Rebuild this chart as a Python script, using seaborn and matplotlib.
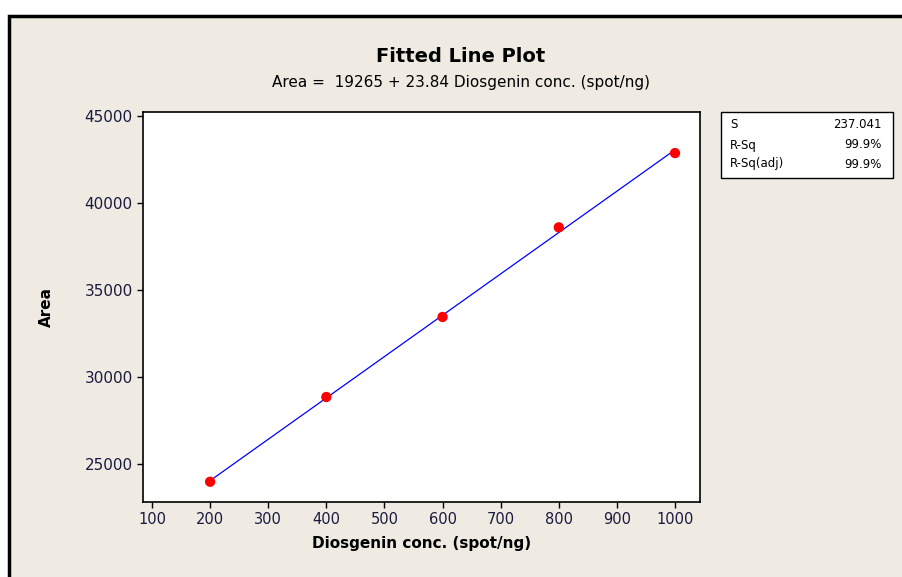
import matplotlib
matplotlib.use("Agg")
import matplotlib.pyplot as plt
import seaborn as sns
import pandas as pd
from matplotlib.patches import Rectangle

conc = [200, 400, 600, 800, 1000]
area = [23980, 28850, 33450, 38600, 42870]
x_ticks = [100, 200, 300, 400, 500, 600, 700, 800, 900, 1000]
y_ticks = [25000, 30000, 35000, 40000, 45000]
stat_names = ["S", "R-Sq", "R-Sq(adj)"]
stat_values = ["237.041", "99.9%", "99.9%"]

df = pd.DataFrame({"Diosgenin conc. (spot/ng)": conc, "Area": area})

sns.set_style("white")
plt.rcParams['font.family'] = ['DejaVu Sans']
plt.rcParams['text.color'] = 'black'

fig = plt.figure(figsize=(9.03, 5.77), dpi=100)
fig.patch.set_facecolor("white")
bg = Rectangle((9 / 903, -0.05), 1.0, 1 - 16 / 577 + 0.05, transform=fig.transFigure,
               facecolor="#EFEBE2", edgecolor="black", linewidth=2.5, zorder=-10)
fig.patches.append(bg)

ax = fig.add_axes([143 / 903, 1 - 502 / 577, 557 / 903, 390 / 577])
ax.set_facecolor("white")
sns.regplot(data=df, x="Diosgenin conc. (spot/ng)", y="Area", ax=ax, ci=None, truncate=True,
            scatter_kws=dict(color="#FF0000", s=55, zorder=3, edgecolor="none", alpha=1.0),
            line_kws=dict(color="#0000FF", linewidth=0.9))
ax.set_xlim(84.5, 1043)
ax.set_ylim(22816, 45230)
ax.set_xticks(x_ticks)
ax.set_yticks(y_ticks)
ax.tick_params(axis="both", direction="out", length=4, width=1, color="black",
               labelcolor="#1a1a40", bottom=True, left=True)
ax.tick_params(axis="x", labelsize=10.5)
ax.tick_params(axis="y", labelsize=11)
for s in ax.spines.values():
    s.set_color("black")
    s.set_linewidth(1.2)
ax.set_xlabel("Diosgenin conc. (spot/ng)", fontsize=11, fontweight="bold", labelpad=6, color="black")
ax.set_ylabel("Area", fontsize=11, fontweight="bold", labelpad=22, color="black")

fig.text(461 / 903, 1 - 57 / 577, "Fitted Line Plot", ha="center", va="center",
         fontsize=14, fontweight="bold", color="black")
fig.text(461 / 903, 1 - 83 / 577, "Area =  19265 + 23.84 Diosgenin conc. (spot/ng)",
         ha="center", va="center", fontsize=11, color="black")

# stats box
box = Rectangle((721 / 903, 1 - 178 / 577), 172 / 903, 66 / 577, transform=fig.transFigure,
                facecolor="white", edgecolor="black", linewidth=1.0)
fig.patches.append(box)
rows_y = [125, 145, 164]
for name, val, yy in zip(stat_names, stat_values, rows_y):
    fig.text(730 / 903, 1 - yy / 577, name, ha="left", va="center", fontsize=8.5, color="black")
    fig.text(882 / 903, 1 - yy / 577, val, ha="right", va="center", fontsize=8.5, color="black")

fig.savefig("out.png", dpi=100, facecolor=fig.get_facecolor())
